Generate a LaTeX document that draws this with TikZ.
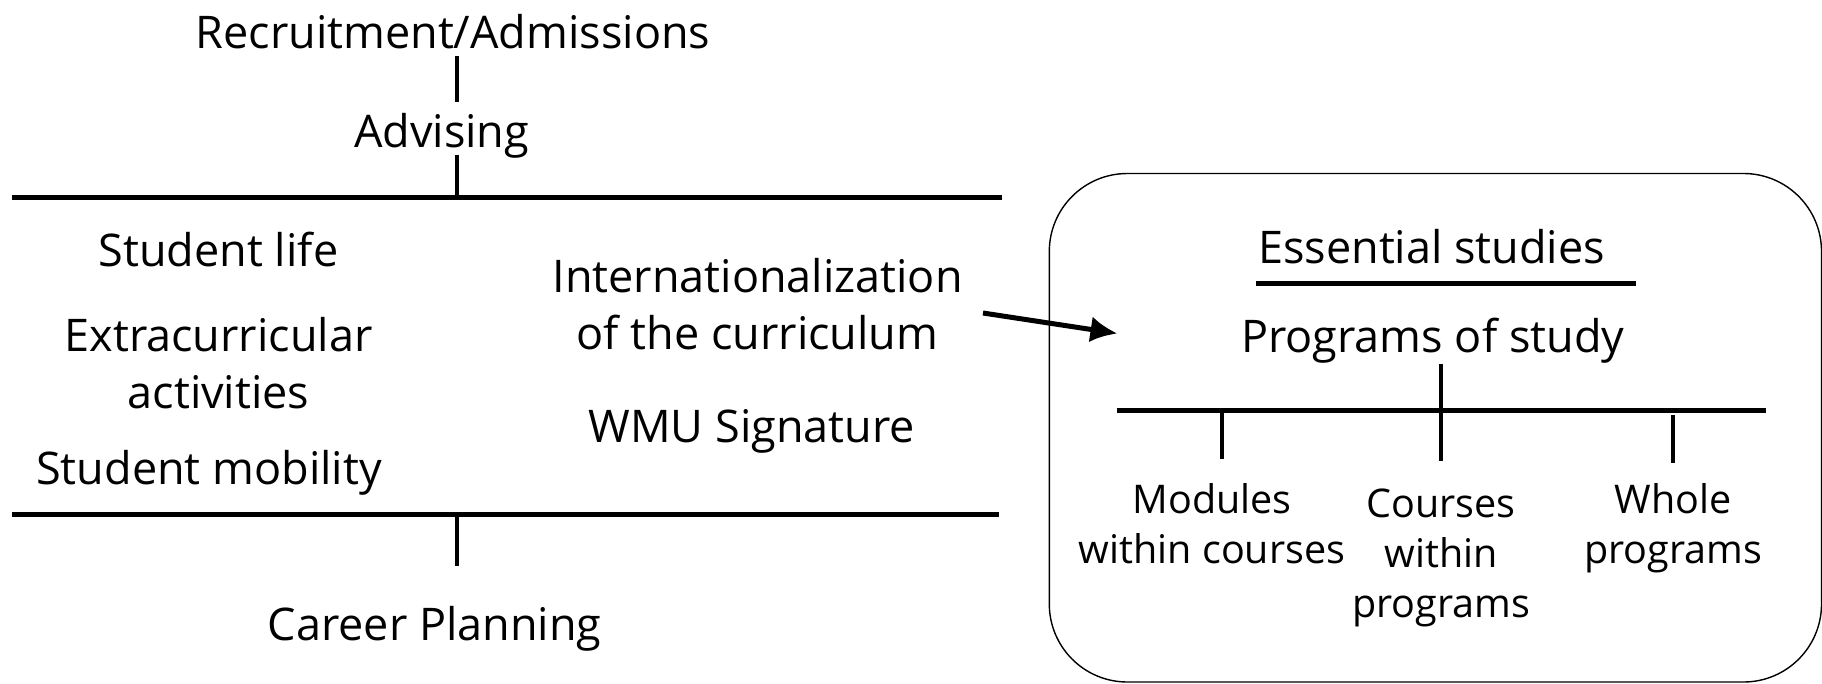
\documentclass[tikz,border=0pt]{standalone}
\usepackage{fontspec}
\setmainfont{Open Sans}
\usetikzlibrary{arrows.meta, positioning}
\tikzset{
  bigtext/.style={font=\fontsize{45}{57}\selectfont, align=center, inner sep=0pt, anchor=base},
  smalltext/.style={font=\fontsize{39.5}{50}\selectfont, align=center, inner sep=0pt, anchor=base},
  bar/.style={line width=5pt},
  tick/.style={line width=4pt},
  linkarrow/.style={line width=5pt, -{Latex[length=27pt,width=26pt]}},
  studyframe/.style={line width=1.4pt, rounded corners=78pt}
}

\begin{document}
\begin{tikzpicture}[x=1pt,y=-1pt]
\useasboundingbox (0,0) rectangle (1822,683);
%top of the student side
\node[bigtext] (recruit) at (453,48.8) {Recruitment/Admissions};
\node[bigtext] (advising) at (441.6,147.6) {Advising};
\coordinate (spine) at (456.7,0);
\draw[tick] (spine |- 0,55.8) -- (spine |- 0,102.3);
\draw[tick] (spine |- 0,154.5) -- (spine |- 0,197.5);
%bars
\coordinate (topleft) at (11.6,197.5);
\coordinate (topright) at (1001.6,197.5);
\coordinate (botleft) at (11.6,514.8);
\coordinate (botright) at (999,514.8);
\draw[bar] (topleft) -- (topright);
\draw[bar] (botleft) -- (botright);
%between the bars (multi-line nodes sit on their last line)
\node[bigtext] (life) at (218.5,266) {Student life};
\node[bigtext] (extra) at (218.5,408) {Extracurricular\\activities};
\node[bigtext] (mobility) at (209,484.6) {Student mobility};
\node[bigtext] (intern) at (757.6,349.8) {Internationalization\\of the curriculum};
\node[bigtext] (wmu) at (751.8,442.7) {WMU Signature};
%bottom
\draw[tick] (spine |- 0,517) -- (spine |- 0,566);
\node[bigtext] (career) at (434.6,640) {Career Planning};
%box with the programs
\draw[studyframe] (1049.3,173.5) rectangle (1821.5,682);
\node[bigtext] (essential) at (1431.6,263.8) {Essential studies};
\draw[bar] (1256,283.5) -- (1636,283.5);
\node[bigtext] (programs) at (1432.7,352) {Programs of study};
\draw[tick] (1440.9,363.7) -- (1440.9,410.2);
\draw[bar] (1116.7,410.2) -- (1766.2,410.2);
\draw[tick] (1222.4,412.5) -- (1222.4,459);
\draw[tick] (1440.9,410.2) -- (1440.9,461.3);
\draw[tick] (1673.3,414.8) -- (1673.3,462.5);
\node[smalltext] (modules) at (1212,563.6) {Modules\\within courses};
\node[smalltext] (courses) at (1441,617) {Courses\\within\\programs};
\node[smalltext] (whole) at (1673,563.6) {Whole\\programs};
%arrow into the box
\coordinate (arrowtail) at (983,313);
\coordinate (arrowtip) at (1117.5,333.5);
\draw[linkarrow] (arrowtail) -- (arrowtip);
\end{tikzpicture}
\end{document}
